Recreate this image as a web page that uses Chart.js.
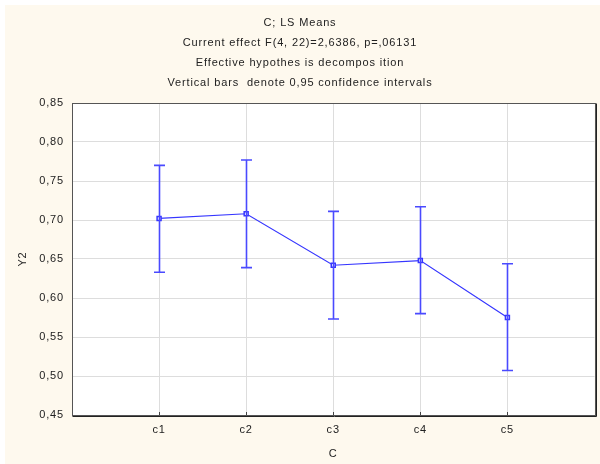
<!DOCTYPE html>
<html>
<head>
<meta charset="utf-8">
<script src="https://cdn.jsdelivr.net/npm/chart.js@4/dist/chart.umd.min.js"></script>
<style>
  html, body { margin: 0; padding: 0; background: #ffffff; }
  #wrap { position: absolute; left: 5px; top: 5px; width: 595px; height: 459px; }
</style>
</head>
<body>
<div id="wrap"><canvas id="c"></canvas></div>
<script>
// Factor levels and least-squares means of Y2 with 0,95 confidence limits
const categories = ['c1', 'c2', 'c3', 'c4', 'c5'];
const means   = [0.702, 0.708, 0.642, 0.648, 0.575];
const ciLower = [0.633, 0.639, 0.573, 0.580, 0.507];
const ciUpper = [0.770, 0.777, 0.711, 0.717, 0.644];

const titleLines = [
  'C; LS Means',
  'Current effect F(4, 22)=2,6386, p=,06131',
  'Effective hypothes is decompos ition',
  'Vertical bars  denote 0,95 confidence intervals'
];
const xTitle = 'C';
const yTitle = 'Y2';
const yMin = 0.45, yMax = 0.85, yStep = 0.05;

const BLUE = '#3636ff';
const BAR_BLUE = '#4a4aff';
const FONT = "'Liberation Sans', Arial, sans-serif";

const points = means.map((m, i) => ({ x: i + 1, y: m }));

const framePlugin = {
  id: 'frame',
  beforeDraw(chart) {
    const { ctx, chartArea: a, width, height } = chart;
    ctx.letterSpacing = '0.85px';
    ctx.save();
    ctx.fillStyle = '#fef9ee';
    ctx.fillRect(0, 0, width, height);
    ctx.fillStyle = '#ffffff';
    ctx.fillRect(a.left, a.top, a.right - a.left, a.bottom - a.top);
    ctx.restore();
  },
  afterDatasetsDraw(chart) {
    const { ctx } = chart;
    const xs = chart.scales.x, ys = chart.scales.y;
    ctx.save();
    ctx.strokeStyle = BAR_BLUE;
    ctx.lineWidth = 1.6;
    categories.forEach((_, i) => {
      const px = Math.round(xs.getPixelForValue(i + 1)) + 0.5;
      const top = ys.getPixelForValue(ciUpper[i]);
      const bot = ys.getPixelForValue(ciLower[i]);
      ctx.beginPath();
      ctx.moveTo(px, top); ctx.lineTo(px, bot);
      ctx.moveTo(px - 5.5, top); ctx.lineTo(px + 5.5, top);
      ctx.moveTo(px - 5.5, bot); ctx.lineTo(px + 5.5, bot);
      ctx.stroke();
    });
    ctx.restore();
  },
  afterDraw(chart) {
    const { ctx, chartArea: a } = chart;
    const xs = chart.scales.x;
    ctx.save();
    // tick marks on the category axis
    ctx.strokeStyle = '#444';
    ctx.lineWidth = 1;
    categories.forEach((_, i) => {
      const px = Math.round(xs.getPixelForValue(i + 1)) + 0.5;
      ctx.beginPath();
      ctx.moveTo(px, a.bottom); ctx.lineTo(px, a.bottom - 3);
      ctx.stroke();
    });
    // plot frame
    const l = Math.round(a.left) + 0.5, t = Math.round(a.top) + 0.5;
    const r = Math.round(a.right) + 0.5, b = Math.round(a.bottom) + 0.5;
    ctx.strokeStyle = '#555';
    ctx.strokeRect(l, t, r - l, b - t);
    ctx.strokeStyle = '#222';
    ctx.beginPath();
    ctx.moveTo(r + 1, t); ctx.lineTo(r + 1, b + 1); ctx.lineTo(l, b + 1);
    ctx.stroke();
    ctx.restore();
  }
};

new Chart(document.getElementById('c'), {
  type: 'line',
  data: {
    datasets: [{
      data: points,
      borderColor: BLUE,
      borderWidth: 1.2,
      pointStyle: 'rect',
      pointRadius: 2.8,
      pointBorderWidth: 1.5,
      pointBorderColor: BLUE,
      pointBackgroundColor: '#ffffff',
      tension: 0
    }]
  },
  options: {
    responsive: true,
    maintainAspectRatio: false,
    animation: false,
    layout: { padding: { left: 0, right: 5, top: 0, bottom: 0 } },
    plugins: {
      legend: { display: false },
      tooltip: { enabled: false },
      title: {
        display: true,
        text: titleLines,
        color: '#222',
        font: { family: FONT, size: 11, weight: 'normal', lineHeight: 20 / 11 },
        padding: { top: 8, bottom: 10 }
      }
    },
    scales: {
      x: {
        type: 'linear',
        min: 0,
        max: categories.length + 1,
        afterBuildTicks(scale) {
          scale.ticks = categories.map((_, i) => ({ value: i + 1 }));
        },
        afterFit(scale) { scale.height = 49; },
        ticks: {
          color: '#222',
          font: { family: FONT, size: 11 },
          padding: 8,
          maxRotation: 0,
          callback: (v) => categories[v - 1] ?? ''
        },
        grid: { color: '#dddddd', lineWidth: 1, drawTicks: false },
        border: { display: false },
        title: {
          display: true,
          text: xTitle,
          color: '#222',
          font: { family: FONT, size: 11 },
          padding: { top: 0, bottom: 3 }
        }
      },
      y: {
        min: yMin,
        max: yMax,
        afterFit(scale) { scale.width = 67; },
        ticks: {
          stepSize: yStep,
          color: '#222',
          font: { family: FONT, size: 11 },
          padding: 8,
          callback: (v) => v.toFixed(2).replace('.', ',')
        },
        grid: { color: '#dddddd', lineWidth: 1, drawTicks: false },
        border: { display: false },
        title: {
          display: true,
          text: yTitle,
          color: '#222',
          font: { family: FONT, size: 11 },
          padding: { top: 11, bottom: 0 }
        }
      }
    }
  },
  plugins: [framePlugin]
});
</script>
</body>
</html>
